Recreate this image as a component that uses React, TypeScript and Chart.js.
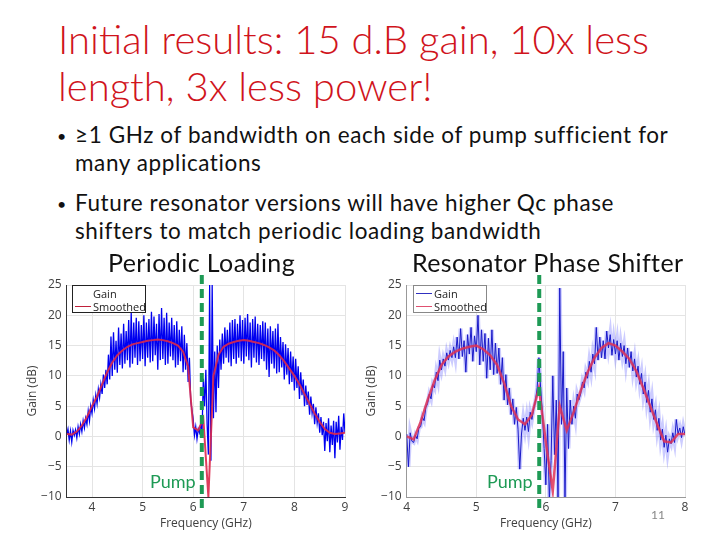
import React, { useEffect, useRef } from "react";
import { Chart, registerables } from "chart.js";
Chart.register(...registerables);

// ---------- data ----------
const STEP_RAW = 0.025;
const STEP_SMOOTH = 0.1;

// Periodic Loading
const freqStart1 = 3.5;
const gain1 = [
  0.3, 1.2, -0.6, 0.9, -0.9, 1.0, 0.2, 1.1, -0.2, 1.6, 0.4, 2.0, 0.8, 2.6, 1.4, 3.0, 2.0, 4.2, 2.6, 5.0,
  3.8, 6.0, 4.6, 6.8, 5.4, 7.8, 6.4, 8.6, 7.0, 10.2, 8.0, 11.0, 8.6, 13.5, 9.4, 16.5, 10.0, 17.2, 11.0, 15.8,
  10.5, 18.0, 11.8, 17.0, 11.2, 18.6, 12.0, 17.4, 12.6, 19.2, 11.4, 20.4, 12.0, 18.8, 13.0, 19.6, 11.8, 19.0, 12.4, 18.4,
  12.8, 20.0, 11.6, 18.8, 13.0, 19.4, 12.2, 20.6, 12.4, 19.8, 13.4, 18.6, 11.0, 20.2, 12.6, 21.2, 12.8, 19.6, 11.8, 20.4,
  12.0, 18.8, 13.2, 19.6, 12.6, 18.4, 11.4, 19.0, 11.8, 17.6, 12.4, 18.2, 10.6, 16.8, 11.0, 15.4, 9.0, 13.0, 6.0, 4.4,
  2.8, 0.2, 1.6, -0.4, 1.2, 0.6, 2.2, 0.8, 9.5, 5.0, 11.0, 2.0, -3.0, 25.0, -4.0, 25.0, 3.0, 14.0, 4.0, 15.0,
  8.0, 16.0, 11.0, 17.0, 12.0, 18.0, 13.0, 17.6, 12.2, 18.8, 11.6, 19.2, 12.8, 19.4, 12.0, 18.6, 13.0, 20.0, 12.4, 19.2,
  12.0, 19.6, 13.2, 20.2, 12.6, 18.8, 11.4, 19.4, 13.0, 19.8, 12.2, 18.6, 11.8, 18.4, 12.8, 19.0, 12.4, 18.8, 11.0, 17.8,
  9.8, 18.2, 12.0, 17.4, 11.2, 17.8, 10.4, 18.6, 10.6, 16.4, 11.4, 15.6, 9.4, 15.2, 10.2, 14.6, 8.6, 14.0, 9.0, 13.2,
  7.6, 12.8, 8.0, 11.6, 6.2, 10.6, 6.8, 9.4, 5.0, 8.4, 5.2, 7.4, 3.6, 6.6, 3.8, 5.4, 2.0, 4.8, 2.2, 3.8,
  0.6, 3.2, 0.2, 2.4, -2.4, 2.2, -0.8, 3.0, -2.6, 1.8, -1.4, 2.6, -3.6, 2.4, -1.0, 3.4, -2.2, 1.6, -0.6, 3.8,
  0.6,
];
const smooth1 = [
  0.4, 0.3, 0.8, 1.8, 3.2, 5.0, 6.6, 8.6, 10.6, 12.2, 13.4, 14.2, 14.8, 15.2, 15.4, 15.6, 15.8, 15.9, 16.0, 15.9,
  15.7, 15.4, 15.0, 14.0, 11.5, 1.5, 1.0, 3.0, -10.0, 10.0, 13.5, 14.8, 15.3, 15.6, 15.8, 15.9, 15.8, 15.6, 15.4, 15.1,
  14.7, 14.2, 13.4, 12.4, 11.2, 10.0, 8.6, 7.0, 5.4, 3.8, 2.4, 1.2, 0.6, 0.4, 0.5, 0.6,
];
const xTicks1 = [4, 5, 6, 7, 8, 9];
const pump1 = 6.17;

// Resonator Phase Shifter
const freqStart2 = 4.0;
const gain2 = [
  0.4, -5.0, 0.6, -0.8, -1.0, 0.2, -0.4, 1.4, 1.6, 3.2, 2.6, 4.8, 5.4, 7.0, 6.2, 8.6, 8.0, 10.6, 9.2, 12.6,
  11.0, 12.8, 11.6, 13.8, 12.6, 14.2, 13.0, 14.8, 13.0, 16.4, 12.8, 17.8, 13.2, 15.8, 10.6, 16.8, 13.6, 18.0, 12.4, 16.6,
  14.0, 20.0, 11.8, 17.6, 12.4, 17.0, 9.6, 16.2, 11.0, 17.6, 10.2, 15.4, 10.4, 14.6, 8.6, 13.0, 6.0, 10.2, 5.2, 8.0,
  3.6, 6.2, 2.0, 4.8, 1.2, -5.4, 0.4, 3.0, 1.0, 3.2, 0.8, 4.0, 2.8, 4.6, 5.8, 8.0, 13.0, 8.0, 4.0, -2.0,
  -8.0, 2.0, -10.5, -4.0, 10.0, -3.0, 6.0, -10.5, 24.5, 2.0, 14.0, -10.5, 8.0, -2.0, 6.0, 2.0, 5.0, 3.0, 7.0, 6.0,
  7.0, 9.0, 8.0, 10.6, 9.6, 12.4, 10.6, 13.6, 12.0, 18.0, 12.6, 16.4, 13.0, 15.8, 12.8, 17.4, 14.6, 16.8, 13.4, 16.0,
  13.6, 15.8, 12.6, 15.4, 13.2, 15.0, 12.0, 14.6, 11.4, 14.0, 10.8, 12.8, 9.8, 11.6, 8.6, 10.4, 7.0, 9.0, 5.6, 7.6,
  4.0, 6.2, 2.8, 4.4, 1.0, 3.0, -0.6, 1.2, -1.8, 0.2, -2.6, -0.4, -1.2, 0.6, -1.0, 2.8, 0.4, 1.4, -0.2, 1.6,
  0.2,
];
const smooth2 = [
  0.0, -0.5, 2.4, 6.0, 9.2, 11.8, 13.2, 14.0, 14.5, 14.8, 15.0, 14.4, 13.4, 11.8, 8.8, 5.0, 2.8, 2.0, 3.6, 8.0,
  -1.0, -9.0, 5.0, 1.0, 4.0, 7.5, 10.6, 13.0, 14.6, 15.4, 15.0, 14.0, 12.8, 10.8, 8.0, 5.0, 2.0, -0.8, -1.0, 0.4,
  0.4,
];
const xTicks2 = [4, 5, 6, 7, 8];
const pump2 = 5.905;

const yMin = -10;
const yMax = 25;
const yStep = 5;

// ---------- helpers ----------
const toPoints = (vals: number[], start: number, step: number) =>
  vals.map((y, i) => ({ x: +(start + i * step).toFixed(4), y }));

const pumpPlugin = {
  id: "pumpLine",
  afterDatasetsDraw(chart: any, _args: any, opts: any) {
    const { ctx, chartArea } = chart;
    const x = chart.scales.x.getPixelForValue(opts.value);
    ctx.save();
    ctx.strokeStyle = "#1e9a55";
    ctx.lineWidth = 4;
    ctx.setLineDash([9, 5]);
    ctx.beginPath();
    ctx.moveTo(x, chartArea.top - 10);
    ctx.lineTo(x, chartArea.bottom + 16);
    ctx.stroke();
    ctx.restore();
  },
};

const axisFont = { family: "'Open Sans', sans-serif", size: 12 };

function makeConfig(p: {
  gain: number[];
  smooth: number[];
  start: number;
  xmin: number;
  xmax: number;
  xticks: number[];
  pump: number;
  yWidth: number;
  borderColor: string;
  gainColor: string;
  gainWidth: number;
  haloColor: string | null;
  smoothColor: string;
  smoothWidth: number;
}): any {
  const gainPts = toPoints(p.gain, p.start, STEP_RAW);
  const datasets: any[] = [];
  if (p.haloColor) {
    datasets.push({
      label: "GainHalo",
      data: gainPts,
      borderColor: p.haloColor,
      borderWidth: 4,
      pointRadius: 0,
      tension: 0,
      order: 3,
    });
  }
  datasets.push(
    {
      label: "Gain",
      data: gainPts,
      borderColor: p.gainColor,
      borderWidth: p.gainWidth,
      pointRadius: 0,
      tension: 0,
      order: 2,
    },
    {
      label: "Smoothed",
      data: toPoints(p.smooth, p.start, STEP_SMOOTH),
      borderColor: p.smoothColor,
      borderWidth: p.smoothWidth,
      pointRadius: 0,
      tension: 0,
      order: 1,
    }
  );
  return {
    type: "line",
    data: { datasets },
    options: {
      animation: false,
      responsive: false,
      devicePixelRatio: 1,
      layout: { padding: { top: 15, right: 15, left: 0, bottom: 0 } },
      plugins: {
        legend: { display: false },
        tooltip: { enabled: false },
        pumpLine: { value: p.pump },
      },
      scales: {
        x: {
          type: "linear",
          min: p.xmin,
          max: p.xmax,
          afterBuildTicks: (s: any) => {
            s.ticks = p.xticks.map((v) => ({ value: v }));
          },
          afterFit: (s: any) => {
            s.height = 38;
          },
          ticks: { font: axisFont, color: "#404040", padding: 3, maxRotation: 0 },
          grid: { color: "#e4e4e4", drawTicks: false },
          border: { display: true, color: p.borderColor },
          title: {
            display: true,
            text: "Frequency (GHz)",
            font: axisFont,
            color: "#404040",
            padding: { top: 2, bottom: 4 },
          },
        },
        y: {
          min: yMin,
          max: yMax,
          afterFit: (s: any) => {
            s.width = p.yWidth;
          },
          ticks: {
            stepSize: yStep,
            font: axisFont,
            color: "#404040",
            padding: 5,
            callback: (v: any) => (v < 0 ? "\u2212" + Math.abs(v) : String(v)),
          },
          grid: { color: "#e4e4e4", drawTicks: false },
          border: { display: true, color: p.borderColor },
          title: {
            display: true,
            text: "Gain (dB)",
            font: axisFont,
            color: "#404040",
            padding: { top: 4, bottom: 4 },
          },
        },
      },
    },
    plugins: [pumpPlugin],
  };
}

function GainChart(props: { config: any; left: number; width: number }) {
  const ref = useRef<HTMLCanvasElement>(null);
  useEffect(() => {
    const chart = new Chart(ref.current as HTMLCanvasElement, props.config);
    return () => chart.destroy();
  }, []);
  return (
    <canvas
      ref={ref}
      width={props.width}
      height={265}
      style={{ position: "absolute", left: props.left, top: 270, width: props.width, height: 265 }}
    />
  );
}

const slideFont = "Lato, 'Open Sans', sans-serif";

function Legend(props: { left: number; gainLine: string | null; smoothLine: string; border: string }) {
  const rowStyle: React.CSSProperties = {
    position: "absolute",
    left: 20,
    fontFamily: "'Open Sans', sans-serif",
    fontSize: 11,
    lineHeight: "13px",
    color: "#222",
  };
  return (
    <div
      style={{
        position: "absolute",
        left: props.left,
        top: 285,
        width: 74,
        height: 28,
        border: `1px solid ${props.border}`,
        background: "#fff",
        boxSizing: "border-box",
      }}
    >
      {props.gainLine && (
        <div style={{ position: "absolute", left: 2, top: 7, width: 16, height: 1, background: props.gainLine }} />
      )}
      <div style={{ ...rowStyle, top: 1 }}>Gain</div>
      <div style={{ position: "absolute", left: 2, top: 20, width: 16, height: 1, background: props.smoothLine }} />
      <div style={{ ...rowStyle, top: 14 }}>Smoothed</div>
    </div>
  );
}

export default function App() {
  const cfg1 = makeConfig({
    gain: gain1,
    smooth: smooth1,
    start: freqStart1,
    xmin: 3.5,
    xmax: 9,
    xticks: xTicks1,
    pump: pump1,
    yWidth: 45.7,
    borderColor: "#333",
    gainColor: "#0000f0",
    gainWidth: 1.3,
    haloColor: null,
    smoothColor: "rgba(220,40,75,0.9)",
    smoothWidth: 2,
  });
  const cfg2 = makeConfig({
    gain: gain2,
    smooth: smooth2,
    start: freqStart2,
    xmin: 4,
    xmax: 8,
    xticks: xTicks2,
    pump: pump2,
    yWidth: 46.7,
    borderColor: "#999",
    gainColor: "#1a1ac8",
    gainWidth: 1,
    haloColor: "rgba(110,110,255,0.35)",
    smoothColor: "rgba(225,50,85,0.85)",
    smoothWidth: 2.5,
  });

  const abs: React.CSSProperties = { position: "absolute", margin: 0, whiteSpace: "nowrap" };
  const bullet: React.CSSProperties = {
    ...abs,
    left: 57,
    fontFamily: slideFont,
    fontSize: 22.5,
    letterSpacing: 0.6,
    lineHeight: "28px",
    color: "#111",
  };
  const dot: React.CSSProperties = { position: "absolute", left: 0, top: 1, fontSize: 16 };
  const sub: React.CSSProperties = {
    ...abs,
    top: 248,
    fontFamily: slideFont,
    fontSize: 25,
    letterSpacing: 0.4,
    lineHeight: "28px",
    color: "#111",
  };

  return (
    <div
      style={{
        position: "fixed",
        left: 0,
        top: 0,
        width: 720,
        height: 540,
        background: "#fff",
        overflow: "hidden",
      }}
    >
      <div
        style={{
          ...abs,
          left: 58,
          top: 16,
          fontFamily: slideFont,
          fontWeight: 300,
          fontSize: 40,
          lineHeight: "47px",
          color: "#d0141c",
        }}
      >
        Initial results: 15 d.B gain, 10x less
        <br />
        length, 3x less power!
      </div>

      <div style={{ ...bullet, top: 121 }}>
        <span style={dot}>•</span>
        <div style={{ marginLeft: 18 }}>
          ≥1 GHz of bandwidth on each side of pump sufficient for
          <br />
          many applications
        </div>
      </div>
      <div style={{ ...bullet, top: 189 }}>
        <span style={dot}>•</span>
        <div style={{ marginLeft: 18 }}>
          Future resonator versions will have higher Qc phase
          <br />
          shifters to match periodic loading bandwidth
        </div>
      </div>

      <GainChart config={cfg1} left={21} width={339} />
      <GainChart config={cfg2} left={360} width={340} />

      <div style={{ ...sub, left: 108 }}>Periodic Loading</div>
      <div style={{ ...sub, left: 412 }}>Resonator Phase Shifter</div>

      <Legend left={72} gainLine={null} smoothLine="#c0203a" border="#222" />
      <Legend left={413} gainLine="#3030c0" smoothLine="#e05070" border="#888" />

      <div style={{ ...abs, left: 150, top: 470, fontFamily: slideFont, fontSize: 18, lineHeight: "22px", color: "#1e9a55" }}>
        Pump
      </div>
      <div style={{ ...abs, left: 487, top: 470, fontFamily: slideFont, fontSize: 18, lineHeight: "22px", color: "#1e9a55" }}>
        Pump
      </div>

      <div style={{ ...abs, left: 651, top: 507, fontFamily: slideFont, fontSize: 12, lineHeight: "16px", color: "#888" }}>
        11
      </div>
    </div>
  );
}
